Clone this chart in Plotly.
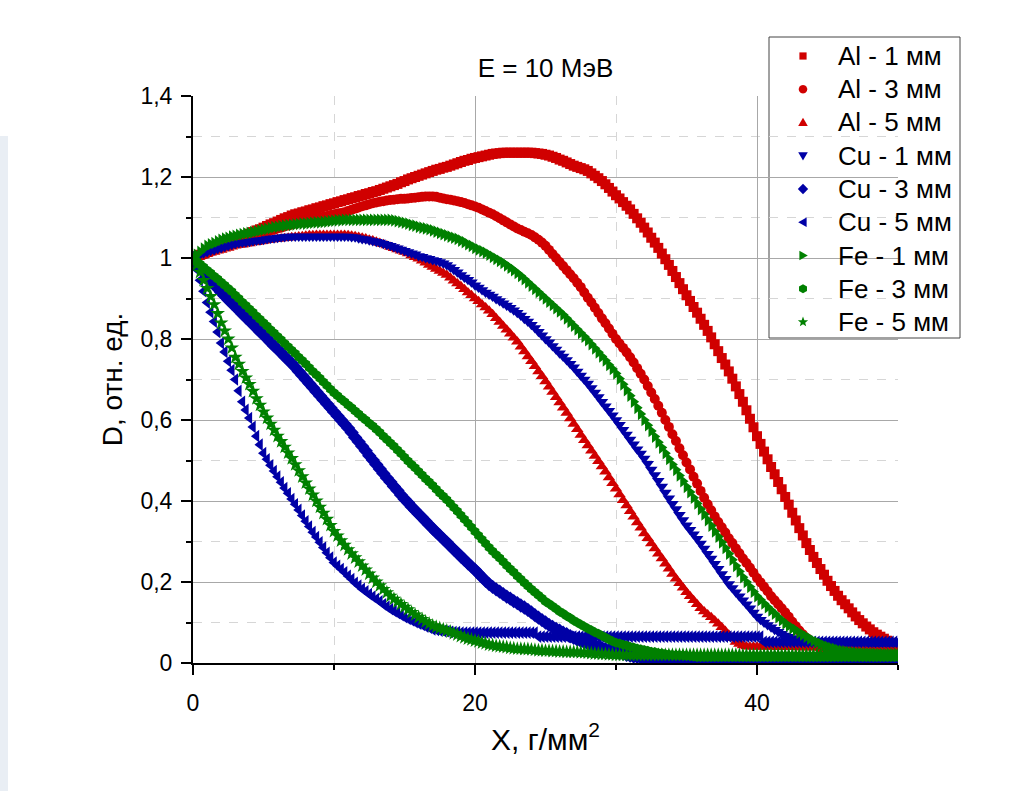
import math
import plotly.graph_objects as go

# ---------------- data ----------------
X_VALUES = [i * 0.25 for i in range(201)]  # depth grid 0 .. 50 g/mm^2

AL_1MM = [
    1.000, 1.004, 1.008, 1.011, 1.015, 1.019, 1.023, 1.026, 1.030, 1.034, 1.038, 1.041, 1.045, 1.049, 1.053, 1.056, 1.060, 1.064, 1.068, 1.071,
    1.075, 1.079, 1.083, 1.086, 1.090, 1.094, 1.098, 1.101, 1.105, 1.108, 1.110, 1.113, 1.115, 1.118, 1.120, 1.123, 1.125, 1.128, 1.130, 1.133,
    1.135, 1.138, 1.140, 1.143, 1.145, 1.148, 1.150, 1.153, 1.155, 1.158, 1.160, 1.163, 1.165, 1.168, 1.171, 1.174, 1.177, 1.180, 1.183, 1.187,
    1.190, 1.194, 1.197, 1.200, 1.203, 1.206, 1.209, 1.212, 1.215, 1.218, 1.220, 1.223, 1.225, 1.228, 1.231, 1.234, 1.237, 1.240, 1.242, 1.245,
    1.247, 1.249, 1.251, 1.253, 1.255, 1.257, 1.258, 1.259, 1.260, 1.260, 1.260, 1.260, 1.260, 1.260, 1.260, 1.260, 1.260, 1.259, 1.258, 1.257,
    1.255, 1.253, 1.250, 1.247, 1.243, 1.240, 1.236, 1.232, 1.228, 1.225, 1.222, 1.219, 1.215, 1.209, 1.203, 1.197, 1.190, 1.182, 1.173, 1.164,
    1.155, 1.147, 1.138, 1.129, 1.120, 1.109, 1.098, 1.087, 1.075, 1.063, 1.050, 1.038, 1.025, 1.011, 0.997, 0.983, 0.968, 0.953, 0.938, 0.923,
    0.908, 0.894, 0.879, 0.865, 0.850, 0.835, 0.820, 0.804, 0.787, 0.770, 0.753, 0.737, 0.720, 0.702, 0.683, 0.664, 0.645, 0.624, 0.603, 0.582,
    0.560, 0.541, 0.522, 0.503, 0.484, 0.466, 0.447, 0.429, 0.410, 0.391, 0.371, 0.352, 0.333, 0.315, 0.296, 0.279, 0.262, 0.247, 0.232, 0.218,
    0.203, 0.190, 0.178, 0.166, 0.155, 0.145, 0.135, 0.125, 0.115, 0.106, 0.098, 0.090, 0.083, 0.076, 0.070, 0.065, 0.060, 0.055, 0.050, 0.046,
    0.043,
]
AL_3MM = [
    1.000, 1.003, 1.005, 1.008, 1.012, 1.016, 1.020, 1.024, 1.028, 1.031, 1.035, 1.038, 1.042, 1.045, 1.048, 1.050, 1.053, 1.055, 1.058, 1.060,
    1.063, 1.065, 1.068, 1.070, 1.073, 1.075, 1.078, 1.080, 1.083, 1.085, 1.088, 1.090, 1.092, 1.094, 1.096, 1.098, 1.100, 1.102, 1.104, 1.106,
    1.108, 1.110, 1.111, 1.113, 1.116, 1.119, 1.122, 1.125, 1.128, 1.130, 1.133, 1.135, 1.137, 1.139, 1.140, 1.142, 1.143, 1.144, 1.145, 1.146,
    1.146, 1.147, 1.148, 1.149, 1.150, 1.151, 1.152, 1.152, 1.152, 1.151, 1.149, 1.147, 1.145, 1.144, 1.142, 1.140, 1.138, 1.136, 1.133, 1.130,
    1.127, 1.124, 1.120, 1.116, 1.112, 1.108, 1.103, 1.098, 1.093, 1.088, 1.083, 1.078, 1.073, 1.069, 1.065, 1.061, 1.057, 1.051, 1.045, 1.038,
    1.030, 1.020, 1.010, 1.000, 0.990, 0.980, 0.970, 0.960, 0.950, 0.939, 0.928, 0.915, 0.902, 0.890, 0.877, 0.864, 0.851, 0.839, 0.826, 0.813,
    0.800, 0.789, 0.778, 0.767, 0.755, 0.742, 0.728, 0.714, 0.700, 0.684, 0.668, 0.652, 0.635, 0.618, 0.600, 0.583, 0.565, 0.548, 0.530, 0.513,
    0.495, 0.478, 0.460, 0.443, 0.425, 0.408, 0.392, 0.377, 0.362, 0.348, 0.335, 0.322, 0.308, 0.296, 0.283, 0.271, 0.258, 0.247, 0.235, 0.223,
    0.210, 0.199, 0.188, 0.177, 0.165, 0.155, 0.145, 0.135, 0.125, 0.114, 0.102, 0.091, 0.080, 0.071, 0.062, 0.055, 0.048, 0.043, 0.038, 0.034,
    0.031, 0.028, 0.026, 0.024, 0.023, 0.022, 0.021, 0.021, 0.020, 0.020, 0.020, 0.020, 0.020, 0.020, 0.020, 0.020, 0.020, 0.020, 0.020, 0.020,
    0.020,
]
AL_5MM = [
    1.000, 1.003, 1.005, 1.008, 1.010, 1.013, 1.015, 1.018, 1.020, 1.023, 1.025, 1.028, 1.030, 1.032, 1.033, 1.035, 1.036, 1.038, 1.039, 1.041,
    1.042, 1.044, 1.045, 1.046, 1.047, 1.048, 1.049, 1.050, 1.051, 1.052, 1.053, 1.054, 1.055, 1.056, 1.056, 1.057, 1.057, 1.057, 1.057, 1.057,
    1.057, 1.057, 1.057, 1.057, 1.056, 1.055, 1.054, 1.052, 1.050, 1.048, 1.045, 1.043, 1.040, 1.037, 1.034, 1.031, 1.027, 1.024, 1.021, 1.018,
    1.015, 1.011, 1.006, 1.002, 0.998, 0.993, 0.988, 0.983, 0.978, 0.973, 0.968, 0.963, 0.958, 0.951, 0.944, 0.937, 0.930, 0.923, 0.915, 0.908,
    0.900, 0.893, 0.885, 0.878, 0.870, 0.861, 0.851, 0.842, 0.832, 0.823, 0.813, 0.803, 0.793, 0.781, 0.769, 0.757, 0.745, 0.733, 0.720, 0.708,
    0.695, 0.682, 0.669, 0.656, 0.643, 0.630, 0.617, 0.604, 0.590, 0.577, 0.563, 0.550, 0.537, 0.524, 0.511, 0.498, 0.485, 0.472, 0.458, 0.444,
    0.430, 0.416, 0.402, 0.389, 0.375, 0.361, 0.347, 0.334, 0.320, 0.308, 0.295, 0.283, 0.270, 0.258, 0.245, 0.233, 0.220, 0.208, 0.197, 0.186,
    0.175, 0.165, 0.155, 0.145, 0.135, 0.127, 0.120, 0.113, 0.105, 0.097, 0.088, 0.079, 0.070, 0.061, 0.052, 0.047, 0.043, 0.041, 0.040, 0.040,
    0.040, 0.040, 0.040, 0.040, 0.040, 0.040, 0.039, 0.039, 0.039, 0.039, 0.039, 0.039, 0.038, 0.038, 0.038, 0.038, 0.038, 0.038, 0.037, 0.037,
    0.037, 0.037, 0.037, 0.037, 0.036, 0.036, 0.036, 0.036, 0.036, 0.036, 0.036, 0.036, 0.035, 0.035, 0.035, 0.035, 0.035, 0.035, 0.035, 0.035,
    0.035,
]
CU_1MM = [
    1.000, 1.004, 1.008, 1.012, 1.015, 1.018, 1.020, 1.023, 1.025, 1.028, 1.030, 1.033, 1.035, 1.037, 1.038, 1.039, 1.040, 1.042, 1.043, 1.044,
    1.045, 1.047, 1.048, 1.049, 1.050, 1.051, 1.052, 1.053, 1.053, 1.053, 1.053, 1.053, 1.053, 1.053, 1.053, 1.053, 1.053, 1.053, 1.053, 1.053,
    1.053, 1.053, 1.053, 1.053, 1.053, 1.052, 1.051, 1.049, 1.047, 1.046, 1.044, 1.042, 1.040, 1.038, 1.035, 1.033, 1.030, 1.027, 1.024, 1.021,
    1.018, 1.015, 1.012, 1.009, 1.005, 1.003, 1.000, 0.998, 0.995, 0.993, 0.990, 0.987, 0.983, 0.977, 0.971, 0.965, 0.958, 0.952, 0.946, 0.940,
    0.933, 0.927, 0.921, 0.915, 0.910, 0.905, 0.899, 0.894, 0.888, 0.883, 0.877, 0.871, 0.865, 0.858, 0.850, 0.843, 0.835, 0.827, 0.818, 0.809,
    0.800, 0.792, 0.783, 0.774, 0.765, 0.757, 0.748, 0.739, 0.730, 0.720, 0.710, 0.700, 0.690, 0.679, 0.668, 0.657, 0.645, 0.634, 0.623, 0.612,
    0.600, 0.588, 0.576, 0.564, 0.552, 0.540, 0.528, 0.517, 0.505, 0.492, 0.478, 0.464, 0.450, 0.436, 0.421, 0.407, 0.393, 0.380, 0.366, 0.353,
    0.340, 0.329, 0.318, 0.307, 0.295, 0.283, 0.270, 0.258, 0.245, 0.233, 0.220, 0.208, 0.195, 0.185, 0.175, 0.165, 0.155, 0.145, 0.135, 0.125,
    0.115, 0.107, 0.100, 0.094, 0.088, 0.082, 0.077, 0.072, 0.068, 0.065, 0.062, 0.060, 0.058, 0.057, 0.056, 0.055, 0.055, 0.055, 0.055, 0.054,
    0.054, 0.054, 0.054, 0.054, 0.053, 0.053, 0.053, 0.053, 0.053, 0.053, 0.053, 0.053, 0.052, 0.052, 0.052, 0.052, 0.052, 0.052, 0.052, 0.052,
    0.052,
]
CU_3MM = [
    1.000, 0.986, 0.975, 0.965, 0.955, 0.945, 0.935, 0.925, 0.915, 0.906, 0.897, 0.888, 0.880, 0.871, 0.862, 0.853, 0.845, 0.836, 0.827, 0.818,
    0.810, 0.801, 0.792, 0.783, 0.775, 0.766, 0.757, 0.748, 0.740, 0.730, 0.720, 0.710, 0.700, 0.690, 0.680, 0.670, 0.660, 0.650, 0.640, 0.630,
    0.620, 0.610, 0.600, 0.590, 0.580, 0.569, 0.557, 0.546, 0.535, 0.524, 0.512, 0.501, 0.490, 0.479, 0.468, 0.457, 0.447, 0.436, 0.426, 0.415,
    0.405, 0.396, 0.386, 0.377, 0.368, 0.359, 0.350, 0.341, 0.332, 0.323, 0.315, 0.306, 0.298, 0.289, 0.280, 0.272, 0.263, 0.255, 0.246, 0.238,
    0.230, 0.221, 0.212, 0.203, 0.195, 0.188, 0.182, 0.176, 0.170, 0.164, 0.159, 0.153, 0.148, 0.142, 0.137, 0.131, 0.125, 0.118, 0.112, 0.106,
    0.100, 0.094, 0.089, 0.084, 0.080, 0.075, 0.071, 0.066, 0.062, 0.058, 0.055, 0.051, 0.048, 0.045, 0.042, 0.040, 0.037, 0.034, 0.032, 0.030,
    0.028, 0.025, 0.023, 0.020, 0.018, 0.016, 0.015, 0.014, 0.013, 0.012, 0.011, 0.011, 0.010, 0.010, 0.009, 0.009, 0.008, 0.007, 0.006, 0.006,
    0.005, 0.005, 0.004, 0.004, 0.004, 0.004, 0.004, 0.004, 0.004, 0.004, 0.004, 0.004, 0.004, 0.004, 0.004, 0.004, 0.004, 0.004, 0.004, 0.004,
    0.004, 0.004, 0.004, 0.004, 0.004, 0.004, 0.004, 0.004, 0.004, 0.004, 0.004, 0.004, 0.004, 0.004, 0.004, 0.004, 0.004, 0.004, 0.004, 0.004,
    0.004, 0.004, 0.004, 0.004, 0.004, 0.004, 0.004, 0.004, 0.004, 0.004, 0.004, 0.004, 0.004, 0.004, 0.004, 0.004, 0.004, 0.004, 0.004, 0.004,
    0.004,
]
CU_5MM = [
    1.000, 0.972, 0.945, 0.918, 0.890, 0.866, 0.843, 0.817, 0.790, 0.768, 0.745, 0.723, 0.700, 0.672, 0.645, 0.625, 0.605, 0.583, 0.560, 0.539,
    0.518, 0.503, 0.488, 0.474, 0.460, 0.446, 0.432, 0.419, 0.405, 0.392, 0.378, 0.364, 0.350, 0.337, 0.323, 0.311, 0.298, 0.285, 0.272, 0.260,
    0.248, 0.240, 0.232, 0.224, 0.215, 0.207, 0.198, 0.191, 0.183, 0.177, 0.170, 0.164, 0.158, 0.152, 0.145, 0.139, 0.133, 0.128, 0.123, 0.118,
    0.113, 0.109, 0.105, 0.101, 0.097, 0.094, 0.090, 0.087, 0.083, 0.082, 0.080, 0.079, 0.078, 0.077, 0.076, 0.076, 0.075, 0.075, 0.075, 0.075,
    0.075, 0.075, 0.075, 0.075, 0.075, 0.075, 0.075, 0.075, 0.075, 0.075, 0.075, 0.075, 0.075, 0.075, 0.075, 0.075, 0.075, 0.075, 0.065, 0.065,
    0.065, 0.065, 0.065, 0.065, 0.065, 0.065, 0.065, 0.065, 0.065, 0.065, 0.065, 0.065, 0.065, 0.065, 0.065, 0.065, 0.065, 0.065, 0.065, 0.065,
    0.065, 0.065, 0.065, 0.065, 0.065, 0.065, 0.065, 0.065, 0.065, 0.065, 0.065, 0.065, 0.065, 0.065, 0.065, 0.065, 0.065, 0.065, 0.065, 0.065,
    0.065, 0.065, 0.065, 0.065, 0.065, 0.065, 0.065, 0.065, 0.065, 0.065, 0.065, 0.065, 0.065, 0.065, 0.065, 0.065, 0.065, 0.065, 0.065, 0.065,
    0.065, 0.065, 0.052, 0.052, 0.052, 0.052, 0.052, 0.052, 0.052, 0.052, 0.052, 0.052, 0.052, 0.052, 0.052, 0.052, 0.052, 0.052, 0.052, 0.052,
    0.052, 0.052, 0.052, 0.052, 0.052, 0.052, 0.052, 0.052, 0.052, 0.052, 0.052, 0.052, 0.052, 0.052, 0.052, 0.052, 0.052, 0.052, 0.052, 0.052,
    0.052,
]
FE_1MM = [
    1.000, 1.008, 1.015, 1.023, 1.030, 1.034, 1.037, 1.041, 1.045, 1.048, 1.050, 1.053, 1.055, 1.057, 1.059, 1.061, 1.062, 1.064, 1.066, 1.068,
    1.070, 1.072, 1.074, 1.076, 1.077, 1.079, 1.080, 1.081, 1.082, 1.083, 1.084, 1.085, 1.085, 1.086, 1.087, 1.088, 1.088, 1.089, 1.090, 1.091,
    1.092, 1.093, 1.093, 1.094, 1.094, 1.094, 1.094, 1.094, 1.094, 1.094, 1.094, 1.094, 1.094, 1.094, 1.094, 1.094, 1.094, 1.093, 1.091, 1.089,
    1.087, 1.085, 1.082, 1.080, 1.077, 1.075, 1.073, 1.071, 1.068, 1.065, 1.062, 1.059, 1.056, 1.053, 1.050, 1.047, 1.043, 1.039, 1.034, 1.030,
    1.025, 1.021, 1.017, 1.013, 1.008, 1.003, 0.998, 0.993, 0.988, 0.982, 0.976, 0.970, 0.963, 0.956, 0.948, 0.940, 0.932, 0.924, 0.916, 0.908,
    0.900, 0.892, 0.884, 0.876, 0.868, 0.860, 0.851, 0.842, 0.833, 0.824, 0.815, 0.806, 0.797, 0.787, 0.777, 0.767, 0.757, 0.747, 0.736, 0.726,
    0.715, 0.702, 0.688, 0.674, 0.660, 0.645, 0.630, 0.615, 0.600, 0.587, 0.573, 0.559, 0.545, 0.532, 0.518, 0.504, 0.490, 0.477, 0.463, 0.449,
    0.435, 0.422, 0.408, 0.394, 0.380, 0.367, 0.353, 0.339, 0.325, 0.312, 0.298, 0.284, 0.270, 0.255, 0.240, 0.226, 0.212, 0.200, 0.188, 0.176,
    0.165, 0.156, 0.147, 0.138, 0.130, 0.122, 0.113, 0.106, 0.098, 0.092, 0.086, 0.081, 0.075, 0.070, 0.065, 0.060, 0.055, 0.051, 0.047, 0.043,
    0.040, 0.037, 0.035, 0.032, 0.030, 0.029, 0.027, 0.026, 0.025, 0.024, 0.023, 0.023, 0.022, 0.022, 0.021, 0.021, 0.020, 0.020, 0.020, 0.020,
    0.020,
]
FE_3MM = [
    1.000, 0.993, 0.985, 0.978, 0.970, 0.963, 0.955, 0.948, 0.940, 0.933, 0.925, 0.917, 0.908, 0.900, 0.891, 0.883, 0.874, 0.866, 0.857, 0.849,
    0.840, 0.832, 0.823, 0.815, 0.806, 0.798, 0.789, 0.781, 0.772, 0.764, 0.755, 0.747, 0.738, 0.729, 0.720, 0.712, 0.703, 0.694, 0.685, 0.676,
    0.667, 0.660, 0.652, 0.645, 0.637, 0.630, 0.622, 0.615, 0.607, 0.600, 0.592, 0.585, 0.577, 0.569, 0.560, 0.552, 0.543, 0.535, 0.526, 0.517,
    0.508, 0.499, 0.490, 0.482, 0.473, 0.464, 0.455, 0.447, 0.438, 0.429, 0.420, 0.412, 0.403, 0.394, 0.384, 0.375, 0.365, 0.355, 0.345, 0.335,
    0.325, 0.315, 0.305, 0.295, 0.285, 0.276, 0.267, 0.259, 0.250, 0.241, 0.232, 0.224, 0.215, 0.207, 0.198, 0.190, 0.182, 0.175, 0.167, 0.160,
    0.152, 0.146, 0.140, 0.134, 0.127, 0.122, 0.116, 0.111, 0.105, 0.100, 0.095, 0.090, 0.085, 0.081, 0.076, 0.072, 0.067, 0.063, 0.058, 0.054,
    0.050, 0.048, 0.045, 0.043, 0.040, 0.038, 0.036, 0.034, 0.032, 0.030, 0.028, 0.027, 0.025, 0.024, 0.022, 0.021, 0.020, 0.020, 0.019, 0.019,
    0.018, 0.017, 0.016, 0.015, 0.015, 0.015, 0.015, 0.015, 0.015, 0.015, 0.015, 0.015, 0.015, 0.015, 0.015, 0.015, 0.015, 0.015, 0.015, 0.015,
    0.015, 0.015, 0.015, 0.015, 0.015, 0.015, 0.015, 0.015, 0.015, 0.015, 0.015, 0.015, 0.015, 0.015, 0.015, 0.015, 0.015, 0.015, 0.015, 0.015,
    0.015, 0.015, 0.015, 0.015, 0.015, 0.015, 0.015, 0.015, 0.015, 0.015, 0.015, 0.015, 0.015, 0.015, 0.015, 0.015, 0.015, 0.015, 0.015, 0.015,
    0.015,
]
FE_5MM = [
    1.000, 0.983, 0.965, 0.945, 0.925, 0.905, 0.885, 0.863, 0.840, 0.820, 0.800, 0.778, 0.755, 0.738, 0.720, 0.704, 0.688, 0.671, 0.653, 0.637,
    0.620, 0.605, 0.590, 0.575, 0.560, 0.547, 0.533, 0.519, 0.505, 0.490, 0.475, 0.460, 0.445, 0.430, 0.415, 0.400, 0.385, 0.370, 0.355, 0.340,
    0.325, 0.314, 0.302, 0.291, 0.280, 0.270, 0.260, 0.250, 0.240, 0.230, 0.220, 0.210, 0.200, 0.191, 0.182, 0.174, 0.165, 0.158, 0.151, 0.145,
    0.138, 0.132, 0.125, 0.119, 0.113, 0.108, 0.102, 0.097, 0.092, 0.089, 0.086, 0.083, 0.080, 0.077, 0.073, 0.070, 0.066, 0.063, 0.060, 0.058,
    0.055, 0.053, 0.050, 0.048, 0.045, 0.044, 0.042, 0.041, 0.040, 0.039, 0.037, 0.036, 0.035, 0.035, 0.034, 0.034, 0.033, 0.032, 0.031, 0.031,
    0.030, 0.030, 0.029, 0.029, 0.028, 0.028, 0.027, 0.027, 0.027, 0.027, 0.026, 0.026, 0.025, 0.024, 0.023, 0.023, 0.022, 0.022, 0.021, 0.021,
    0.020, 0.020, 0.020, 0.020, 0.020, 0.020, 0.020, 0.020, 0.020, 0.020, 0.020, 0.020, 0.020, 0.020, 0.020, 0.020, 0.020, 0.020, 0.020, 0.020,
    0.020, 0.020, 0.020, 0.020, 0.020, 0.020, 0.020, 0.020, 0.020, 0.020, 0.020, 0.020, 0.020, 0.020, 0.020, 0.020, 0.020, 0.020, 0.020, 0.020,
    0.020, 0.020, 0.020, 0.020, 0.020, 0.020, 0.020, 0.020, 0.020, 0.020, 0.020, 0.020, 0.020, 0.020, 0.020, 0.020, 0.020, 0.020, 0.020, 0.020,
    0.020, 0.020, 0.020, 0.020, 0.020, 0.020, 0.020, 0.020, 0.020, 0.020, 0.020, 0.020, 0.020, 0.020, 0.020, 0.020, 0.020, 0.020, 0.020, 0.020,
    0.020,
]

SERIES_NAMES = ["Al - 1 мм", "Al - 3 мм", "Al - 5 мм",
                "Cu - 1 мм", "Cu - 3 мм", "Cu - 5 мм",
                "Fe - 1 мм", "Fe - 3 мм", "Fe - 5 мм"]
SERIES_VALUES = [AL_1MM, AL_3MM, AL_5MM, CU_1MM, CU_3MM, CU_5MM,
                 FE_1MM, FE_3MM, FE_5MM]

X_TICK_VALUES = [0, 20, 40]
X_TICK_LABELS = ["0", "20", "40"]
Y_TICK_VALUES = [0, 0.2, 0.4, 0.6, 0.8, 1.0, 1.2, 1.4]
Y_TICK_LABELS = ["0", "0,2", "0,4", "0,6", "0,8", "1", "1,2", "1,4"]

TITLE = "E = 10 МэВ"
X_TITLE = "X, г/мм<sup>2</sup>"
Y_TITLE = "D, отн. ед."

for v in SERIES_VALUES:
    assert len(v) == len(X_VALUES), len(v)

# ---------------- styles / layout geometry ----------------
RED, BLUE, GREEN = "#d00000", "#0000a6", "#008000"
STYLES = [
    (RED, "square", 10), (RED, "circle", 10), (RED, "triangle-up", 11),
    (BLUE, "triangle-down", 11), (BLUE, "diamond", 11), (BLUE, "triangle-left", 11),
    (GREEN, "triangle-right", 11), (GREEN, "hexagon", 10), (GREEN, "star", 11),
]
FONT = "Liberation Sans, Arial, sans-serif"

W, H = 1025, 791
ML, MT, PW, PH = 193, 96, 705, 567


def px(xp):  # pixel -> paper x
    return (xp - ML) / PW


def py(yp):  # pixel -> paper y
    return (MT + PH - yp) / PH


def symbol_points(sym, cx, cy):
    """Vertices (pixel space) of a small legend symbol centred on (cx, cy)."""
    if sym == "square":
        r = 3.6
        return [(cx - r, cy - r), (cx + r, cy - r), (cx + r, cy + r), (cx - r, cy + r)]
    if sym == "circle":
        return [(cx + 4.2 * math.cos(a * math.pi / 12), cy + 4.2 * math.sin(a * math.pi / 12))
                for a in range(24)]
    if sym == "triangle-up":
        return [(cx, cy - 4.8), (cx + 4.8, cy + 3.6), (cx - 4.8, cy + 3.6)]
    if sym == "triangle-down":
        return [(cx, cy + 4.8), (cx + 4.8, cy - 3.6), (cx - 4.8, cy - 3.6)]
    if sym == "triangle-left":
        return [(cx - 4.8, cy), (cx + 3.6, cy - 4.8), (cx + 3.6, cy + 4.8)]
    if sym == "triangle-right":
        return [(cx + 4.8, cy), (cx - 3.6, cy - 4.8), (cx - 3.6, cy + 4.8)]
    if sym == "diamond":
        return [(cx, cy - 5.2), (cx + 5.2, cy), (cx, cy + 5.2), (cx - 5.2, cy)]
    if sym == "hexagon":
        return [(cx + 4.6 * math.cos(math.pi / 6 + a * math.pi / 3),
                 cy + 4.6 * math.sin(math.pi / 6 + a * math.pi / 3)) for a in range(6)]
    if sym == "star":
        pts = []
        for k in range(10):
            rr = 5.4 if k % 2 == 0 else 2.3
            ang = -math.pi / 2 + k * math.pi / 5
            pts.append((cx + rr * math.cos(ang), cy + rr * math.sin(ang)))
        return pts
    raise ValueError(sym)


fig = go.Figure()
for name, vals, (col, sym, size) in zip(SERIES_NAMES, SERIES_VALUES, STYLES):
    fig.add_trace(go.Scatter(
        x=X_VALUES, y=vals, mode="markers", name=name, showlegend=False,
        marker=dict(color=col, symbol=sym, size=size, line=dict(width=0)),
    ))

# ---- custom legend (box, symbols, texts) ----
LEG_X0, LEG_X1, LEG_Y0, LEG_Y1 = 769, 960, 37, 338
LEG_SYM_X, LEG_TXT_X, LEG_ROW0, LEG_DY = 803, 836, 56, 33.25
shapes = [
    dict(type="rect", xref="paper", yref="paper",
         x0=px(LEG_X0), x1=px(LEG_X1), y0=py(LEG_Y1), y1=py(LEG_Y0),
         line=dict(color="#444444", width=1), fillcolor="white", layer="between"),
    # faint bluish strip at the very left edge of the picture
    dict(type="rect", xref="paper", yref="paper",
         x0=px(0), x1=px(8), y0=py(H), y1=py(136),
         line=dict(width=0), fillcolor="#e9eef4", layer="below"),
]
annotations = []
for i, (name, (col, sym, size)) in enumerate(zip(SERIES_NAMES, STYLES)):
    cy = LEG_ROW0 + LEG_DY * i
    pts = symbol_points(sym, LEG_SYM_X, cy)
    path = "M" + "L".join(f"{px(a):.5f},{py(b):.5f}" for a, b in pts) + "Z"
    shapes.append(dict(type="path", xref="paper", yref="paper", path=path,
                       fillcolor=col, line=dict(width=0), layer="above"))
    annotations.append(dict(
        xref="paper", yref="paper", x=px(LEG_TXT_X), y=py(cy), xanchor="left", yanchor="middle",
        text=name, showarrow=False, font=dict(family=FONT, size=26, color="black"),
    ))

axis_common = dict(
    showline=True, linecolor="black", linewidth=2,
    ticks="outside", ticklen=10, tickwidth=2, tickcolor="black",
    showgrid=True, gridcolor="#a8a8a8", gridwidth=1,
    zeroline=False, tickfont=dict(family=FONT, size=23, color="black"),
    mirror=False,
)

fig.update_layout(
    width=W, height=H,
    margin=dict(l=ML, r=W - ML - PW, t=MT, b=H - MT - PH),
    paper_bgcolor="white", plot_bgcolor="white",
    font=dict(family=FONT, color="black"),
    showlegend=False,
    title=dict(text=TITLE, x=0.5, xref="paper", xanchor="center",
               y=1 - 68 / H, yanchor="middle",
               font=dict(family=FONT, size=26, color="black")),
    xaxis=dict(
        range=[0, 50], tickmode="array", tickvals=X_TICK_VALUES, ticktext=X_TICK_LABELS,
        title=dict(text=X_TITLE, font=dict(family=FONT, size=30, color="black"), standoff=14),
        ticklabelstandoff=8,
        minor=dict(dtick=10, tick0=0, ticks="outside", ticklen=5, tickwidth=2,
                   tickcolor="black", showgrid=True, gridcolor="#d6d6d6",
                   griddash="dash", gridwidth=1),
        **axis_common,
    ),
    yaxis=dict(
        range=[0, 1.4], tickmode="array", tickvals=Y_TICK_VALUES, ticktext=Y_TICK_LABELS,
        title=dict(text=Y_TITLE, font=dict(family=FONT, size=28, color="black"), standoff=10),
        ticklabelstandoff=4,
        minor=dict(dtick=0.1, tick0=0, ticks="outside", ticklen=5, tickwidth=2,
                   tickcolor="black", showgrid=True, gridcolor="#d6d6d6",
                   griddash="dash", gridwidth=1),
        **axis_common,
    ),
    shapes=shapes,
    annotations=annotations,
)

fig.write_html("out.html")
